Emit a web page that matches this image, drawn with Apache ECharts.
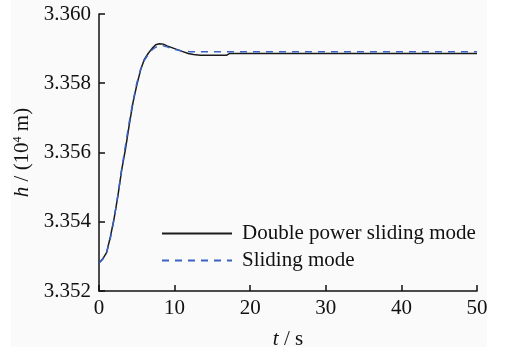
<!DOCTYPE html>
<html>
<head>
<meta charset="utf-8">
<script src="https://cdn.jsdelivr.net/npm/echarts@6/dist/echarts.min.js"></script>
<style>html,body{margin:0;padding:0;background:#fff;}#c{width:507px;height:355px;}</style>
</head>
<body>
<div id="c"></div>
<script>
var seriesNames = ['Double power sliding mode', 'Sliding mode'];
var tDouble = [0,0.5,1.0,1.5,2.0,2.5,3.0,3.5,4.0,4.5,5.0,5.5,6.0,6.5,7.0,7.5,8.0,8.5,9.0,10.0,11.0,11.8,12.5,13.4,16.9,17.3,50];
var hDouble = [3.35281,3.35293,3.35311,3.35356,3.35410,3.35475,3.35550,3.35610,3.35680,3.35745,3.35795,3.35838,3.35869,3.35886,3.35900,3.35911,3.35914,3.35913,3.35908,3.35900,3.35892,3.35886,3.35883,3.35881,3.35881,3.35886,3.35886];
var tSliding = [0,0.5,1.0,1.5,2.0,2.5,3.0,3.5,4.0,4.5,5.0,5.5,6.0,6.5,7.0,7.5,8.0,8.5,9.0,10.0,11.0,12.0,50];
var hSliding = [3.35281,3.35292,3.35310,3.35352,3.35408,3.35478,3.35552,3.35620,3.35688,3.35748,3.35800,3.35840,3.35866,3.35883,3.35896,3.35904,3.35908,3.35908,3.35905,3.35898,3.35893,3.35891,3.35891];
var xTicks = [0,10,20,30,40,50];
var yTicks = [3.352,3.354,3.356,3.358,3.360];

function zip(a,b){return a.map(function(v,i){return [v,b[i]];});}
var font = 'Liberation Serif';
var chart = echarts.init(document.getElementById('c'), null, {renderer:'canvas'});
chart.setOption({
  backgroundColor: '#ffffff',
  animation: false,
  graphic: [{type:'rect', z:-10, shape:{x:11,y:0,width:476,height:347}, style:{fill:'#fafafa'}, silent:true}],
  grid: {left:99, right:30, top:14, bottom:61},
  legend: {
    orient:'vertical', left:161, top:223, padding:0, itemWidth:70, itemHeight:12, itemGap:6,
    data: seriesNames,
    itemStyle:{opacity:0},
    textStyle:{fontFamily:font, fontSize:21, color:'#111', padding:[0,0,0,5]}
  },
  xAxis: {
    type:'value', min:xTicks[0], max:xTicks[xTicks.length-1], interval:10,
    name:'{i|t} / s', nameLocation:'middle', nameGap:38,
    nameTextStyle:{fontFamily:font, fontSize:21, color:'#111', rich:{i:{fontFamily:font, fontSize:21, fontStyle:'italic', color:'#111'}}},
    axisLine:{lineStyle:{color:'#111', width:1.5}},
    axisTick:{inside:true, length:6, lineStyle:{color:'#111', width:1.5}},
    axisLabel:{fontFamily:font, fontSize:21, color:'#111', margin:7},
    splitLine:{show:false}
  },
  yAxis: {
    type:'value', min:yTicks[0], max:yTicks[yTicks.length-1], interval:0.002,
    name:'{i|h} / (10{s|4} m)', nameLocation:'middle', nameGap:66,
    nameTextStyle:{fontFamily:font, fontSize:21, color:'#111', rich:{i:{fontFamily:font, fontSize:21, fontStyle:'italic', color:'#111'}, s:{fontFamily:font, fontSize:12, color:'#111', verticalAlign:'top', padding:[0,0,8,0]}}},
    axisLine:{show:true, lineStyle:{color:'#111', width:1.5}},
    axisTick:{show:true, inside:true, length:6, lineStyle:{color:'#111', width:1.5}},
    axisLabel:{fontFamily:font, fontSize:21, color:'#111', margin:8, formatter:function(v){return v.toFixed(3);}},
    splitLine:{show:false}
  },
  series: [
    {name:seriesNames[0], type:'line', data:zip(tDouble,hDouble), symbol:'none', smooth:false, lineStyle:{color:'#1a1a1a', width:1.5}, itemStyle:{color:'#1a1a1a'}, z:3},
    {name:seriesNames[1], type:'line', data:zip(tSliding,hSliding), symbol:'none', smooth:false, lineStyle:{color:'#3a62c4', width:1.5, type:[7,6]}, itemStyle:{color:'#3a62c4'}, z:4}
  ]
});
</script>
</body>
</html>
